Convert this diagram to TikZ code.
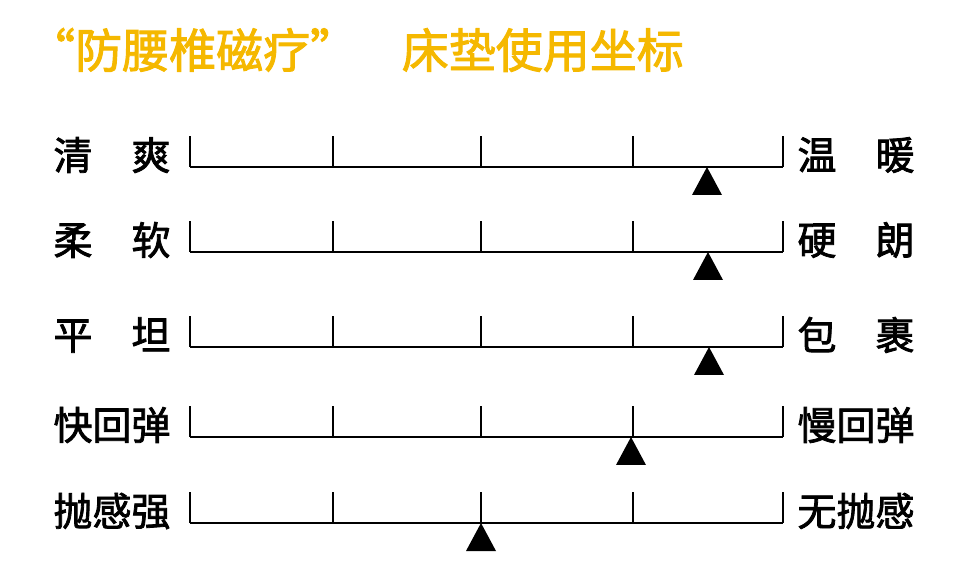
\documentclass[tikz,border=0pt]{standalone}
\usepackage{fontspec}
\newfontfamily\cjk{Noto Sans CJK SC}
\newfontfamily\cjkb[FakeBold=2]{Noto Sans CJK SC}
\definecolor{gold}{HTML}{F5B800}
\begin{document}
\begin{tikzpicture}[x=1pt,y=-1pt,
 lab/.style={font=\cjkb\fontsize{39}{39}\selectfont,inner sep=0},
 scaleline/.style={line width=2pt},
 tri/.style={fill=black}]
\useasboundingbox (0,0) rectangle (954,577);
\node[anchor=west,font=\cjkb\fontsize{47}{47}\selectfont,text=gold,inner sep=0] (title) at (28,50) {“防腰椎磁疗”\hspace{0.95em}床垫使用坐标};
\foreach \y/\l/\r/\t/\n in {167/清\hspace{1em}爽/温\hspace{1em}暖/707/a,252/柔\hspace{1em}软/硬\hspace{1em}朗/708/b,347/平\hspace{1em}坦/包\hspace{1em}裹/709/c,437/快回弹/慢回弹/631/d,523/抛感强/无抛感/481/e}{
 \node[lab] (L\n) at (112,\y-12) {\l};
 \node[lab] (R\n) at (856,\y-12) {\r};
 \coordinate (s\n) at (190,\y);
 \coordinate (e\n) at (783,\y);
 \draw[scaleline] (s\n) -- (e\n);
 \foreach \x in {190,333,481,633,783} \draw[scaleline] (\x,\y) -- (\x,\y-31);
 \fill[tri] (\t,\y) -- (\t+15,\y+28) -- (\t-15,\y+28) -- cycle;
}
\end{tikzpicture}
\end{document}
